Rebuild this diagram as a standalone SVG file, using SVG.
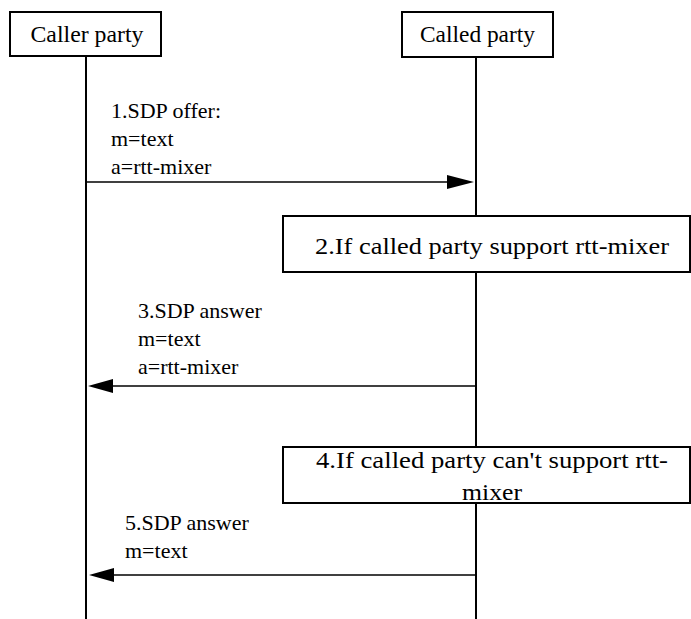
<svg xmlns="http://www.w3.org/2000/svg" width="691" height="619" viewBox="0 0 691 619">
<style>
.box{fill:#fff;stroke:#000;stroke-width:2}
.life{stroke:#000;stroke-width:2;fill:none}
.msg{stroke:#000;stroke-width:1.5;fill:none}
.head{fill:#000;stroke:none}
.t{font-family:'Liberation Serif','Times New Roman',Times,serif;font-size:22px;fill:#000}
.s{font-size:23px}
.c{text-anchor:middle}
</style>
<rect width="691" height="619" fill="#fff"/>
<g id="caller">
<rect class="box" x="10" y="12" width="151" height="44"/>
<text class="t s c" x="87" y="42" textLength="113" lengthAdjust="spacingAndGlyphs">Caller party</text>
</g>
<g id="called">
<rect class="box" x="402" y="12" width="151" height="45"/>
<text class="t s c" x="477.5" y="42" textLength="115" lengthAdjust="spacingAndGlyphs">Called party</text>
</g>
<g id="lifelines">
<line class="life" x1="86" y1="56" x2="86" y2="619"/>
<line class="life" x1="476" y1="57" x2="476" y2="216"/>
<line class="life" x1="476" y1="272" x2="476" y2="447"/>
<line class="life" x1="476" y1="503" x2="476" y2="619"/>
</g>
<g id="step2">
<rect class="box" x="283" y="216" width="407" height="56"/>
<text class="t s c" x="492" y="254" textLength="354" lengthAdjust="spacingAndGlyphs">2.If called party support rtt-mixer</text>
</g>
<g id="step4">
<rect class="box" x="283" y="447" width="407" height="56"/>
<text class="t s c" x="492" y="468" textLength="352" lengthAdjust="spacingAndGlyphs">4.If called party can't support rtt-</text>
<text class="t s c" x="492" y="500" textLength="60" lengthAdjust="spacingAndGlyphs">mixer</text>
</g>
<g id="connectors">
<g id="msg1">
<line class="msg" x1="86" y1="182" x2="450" y2="182"/>
<polygon class="head" points="474,182 447,175 447,189"/>
<text class="t" x="111" y="118">1.SDP offer:</text>
<text class="t" x="111" y="146">m=text</text>
<text class="t" x="111" y="174">a=rtt-mixer</text>
</g>
<g id="msg3">
<line class="msg" x1="476" y1="386" x2="110" y2="386"/>
<polygon class="head" points="88,386 113,379 113,393"/>
<text class="t" x="138" y="318">3.SDP answer</text>
<text class="t" x="138" y="346">m=text</text>
<text class="t" x="138" y="374">a=rtt-mixer</text>
</g>
<g id="msg5">
<line class="msg" x1="476" y1="575" x2="112" y2="575"/>
<polygon class="head" points="89,575 114,568 114,582"/>
<text class="t" x="125" y="530">5.SDP answer</text>
<text class="t" x="125" y="558">m=text</text>
</g>
</g>
</svg>
